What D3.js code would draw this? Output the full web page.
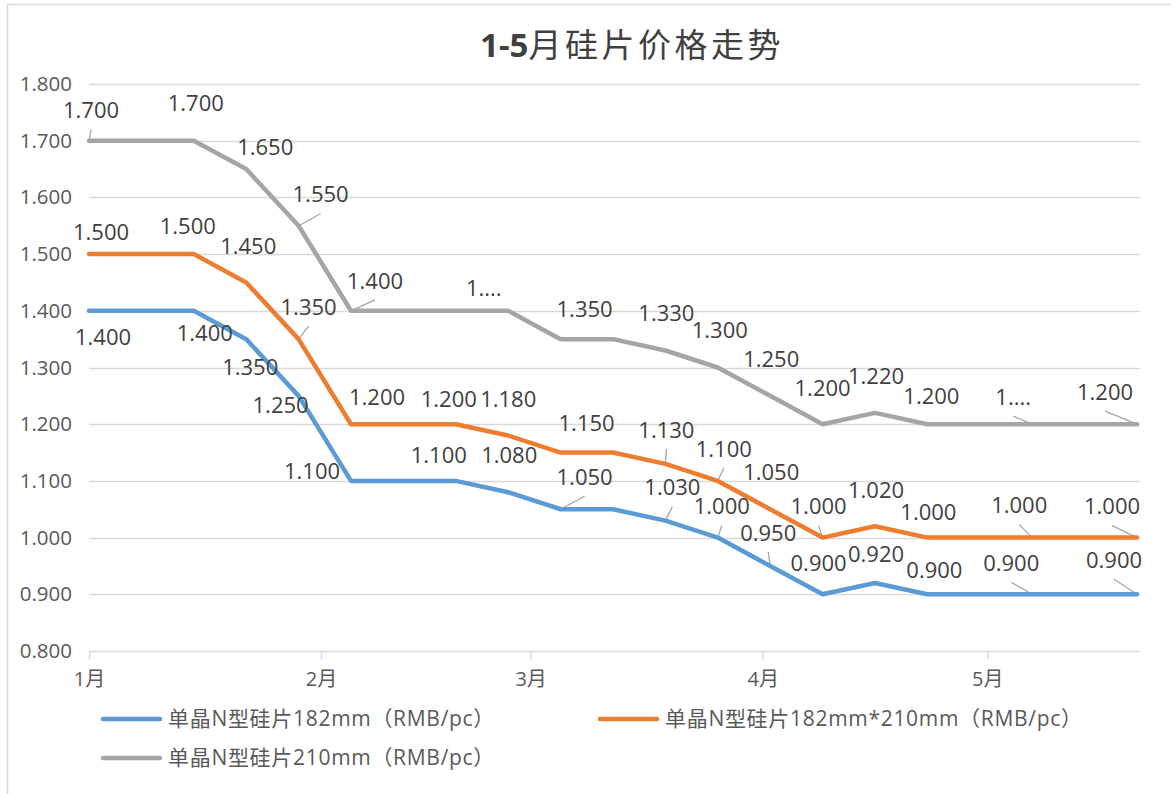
<!DOCTYPE html>
<html>
<head>
<meta charset="utf-8">
<script src="https://cdn.jsdelivr.net/npm/d3@7"></script>
<style>
  html, body { margin: 0; padding: 0; background: #fff; }
  svg { display: block; }
  text { font-family: "Open Sans", "Noto Sans CJK SC", sans-serif; }
</style>
</head>
<body>
<svg id="chart" width="1171" height="794"></svg>
<script>
// Weekly sample dates (2023)
const dates = [
  "2023-01-01", "2023-01-08", "2023-01-15", "2023-01-22", "2023-01-29",
  "2023-02-05", "2023-02-12", "2023-02-19", "2023-02-26", "2023-03-05",
  "2023-03-12", "2023-03-19", "2023-03-26", "2023-04-02", "2023-04-09",
  "2023-04-16", "2023-04-23", "2023-04-30", "2023-05-07", "2023-05-14",
  "2023-05-21"
];

// Prices, RMB per piece
const price182 = [1.400, 1.400, 1.400, 1.350, 1.250, 1.100, 1.100, 1.100, 1.080, 1.050,
                  1.050, 1.030, 1.000, 0.950, 0.900, 0.920, 0.900, 0.900, 0.900, 0.900, 0.900];
const price182x210 = [1.500, 1.500, 1.500, 1.450, 1.350, 1.200, 1.200, 1.200, 1.180, 1.150,
                      1.150, 1.130, 1.100, 1.050, 1.000, 1.020, 1.000, 1.000, 1.000, 1.000, 1.000];
const price210 = [1.700, 1.700, 1.700, 1.650, 1.550, 1.400, 1.400, 1.400, 1.400, 1.350,
                  1.350, 1.330, 1.300, 1.250, 1.200, 1.220, 1.200, 1.200, 1.200, 1.200, 1.200];

const seriesNames = [
  "单晶N型硅片182mm（RMB/pc）",
  "单晶N型硅片182mm*210mm（RMB/pc）",
  "单晶N型硅片210mm（RMB/pc）"
];

const monthTicks = ["2023-01-01", "2023-02-01", "2023-03-01", "2023-04-01", "2023-05-01"];
const monthLabels = ["1月", "2月", "3月", "4月", "5月"];
const yTicks = [0.8, 0.9, 1.0, 1.1, 1.2, 1.3, 1.4, 1.5, 1.6, 1.7, 1.8];

const titleText = "1-5月硅片价格走势";

// Data label placement: [point index, dx, dy, leader line, shortened text]
const labels182 = [
  [0, 14, 26], [2, 11, 22], [3, 4, 28], [4, -18, 9], [5, -39, -10],
  [7, -17, -26], [8, 1, -37], [9, 24, -32, true], [11, 7, -33, true],
  [12, 4, -31, true], [13, -2, -33, true], [14, -4, -31], [15, 1, -29],
  [16, 7, -24], [18, -21, -31, true], [20, -23, -34, true]
];
const labels182x210 = [
  [0, 12, -22], [2, -6, -28], [3, 2, -36], [4, 10, -32, true], [5, 26, -27],
  [7, -7, -25], [8, 0, -36], [9, 26, -29], [11, 1, -34, true],
  [12, 6, -32, true], [13, 1, -37], [14, -4, -31, true], [15, 1, -36],
  [16, 1, -25], [18, -13, -32, true], [20, -25, -31, true]
];
const labels210 = [
  [0, 2, -30, true], [2, 2, -37], [3, 19, -22], [4, 22, -31, true],
  [5, 24, -30, true], [7, 28, -23, false, "1...."], [9, 24, -30], [11, 1, -37],
  [12, 2, -37], [13, 1, -37], [14, 0, -36], [15, 1, -37], [16, 4, -28],
  [18, -19, -27, true, "1...."], [20, -32, -32, true]
];

const colors = ["#5b9bd5", "#ed7d31", "#a5a5a5"];

const parse = d3.timeParse("%Y-%m-%d");
const series = [
  { name: seriesNames[0], values: price182, labels: labels182, color: colors[0] },
  { name: seriesNames[1], values: price182x210, labels: labels182x210, color: colors[1] },
  { name: seriesNames[2], values: price210, labels: labels210, color: colors[2] }
];

const svg = d3.select("#chart");

// chart frame
svg.append("rect")
  .attr("x", 7.5).attr("y", 4.5)
  .attr("width", 1300).attr("height", 1000)
  .attr("fill", "#fff").attr("stroke", "#d9d9d9").attr("stroke-width", 1.5);

const x = d3.scaleTime()
  .domain([parse(dates[0]), parse(dates[dates.length - 1])])
  .range([89, 1137]);
const y = d3.scaleLinear().domain([0.8, 1.8]).range([651, 84]);

// title
svg.append("text")
  .attr("x", 632).attr("y", 57)
  .attr("text-anchor", "middle")
  .attr("fill", "#404040")
  .style("font-size", "33px")
  .call(t => {
    t.append("tspan").attr("font-weight", "bold").text(titleText.slice(0, 3));
    t.append("tspan").attr("font-weight", 400).style("letter-spacing", "3.5px").text(titleText.slice(3));
  });

// horizontal gridlines
svg.append("g")
  .selectAll("line")
  .data(yTicks.slice(1))
  .join("line")
  .attr("x1", 89).attr("x2", 1140)
  .attr("y1", d => Math.round(y(d)) + 0.5).attr("y2", d => Math.round(y(d)) + 0.5)
  .attr("stroke", "#d9d9d9").attr("stroke-width", 1.3);

// y axis labels
const yAxis = d3.axisLeft(y).tickValues(yTicks).tickFormat(d3.format(".3f")).tickSize(0).tickPadding(0);
svg.append("g")
  .attr("transform", "translate(72,0)")
  .call(yAxis)
  .call(g => g.select(".domain").remove())
  .call(g => g.selectAll("text")
    .attr("fill", "#595959")
    .style("font-size", "20.5px")
    .style("font-family", "'Open Sans', 'Noto Sans CJK SC', sans-serif"));

// x axis
const xAxis = d3.axisBottom(x)
  .tickValues(monthTicks.map(parse))
  .tickFormat((d, i) => monthLabels[i])
  .tickSize(8).tickSizeOuter(0).tickPadding(12);
svg.append("g")
  .attr("transform", `translate(0,${Math.round(y(0.8)) + 0.5})`)
  .call(xAxis)
  .call(g => g.select(".domain").attr("d", "M89,0H1140").attr("stroke", "#d9d9d9").attr("stroke-width", 1.3))
  .call(g => g.selectAll(".tick line").attr("stroke", "#d9d9d9").attr("stroke-width", 1.3))
  .call(g => g.selectAll("text")
    .attr("fill", "#595959")
    .style("font-size", "20px")
    .style("font-family", "'Open Sans', 'Noto Sans CJK SC', sans-serif"));

const line = d3.line()
  .x((d, i) => x(parse(dates[i])))
  .y(d => y(d));

// leader lines
series.forEach(s => {
  s.labels.filter(l => l[3]).forEach(([i, dx, dy]) => {
    const px = x(parse(dates[i])), py = y(s.values[i]);
    svg.append("line")
      .attr("x1", px + dx).attr("y1", py + dy + 19)
      .attr("x2", px).attr("y2", py)
      .attr("stroke", "#a6a6a6").attr("stroke-width", 1.3);
  });
});

// series lines
series.forEach(s => {
  svg.append("path")
    .datum(s.values)
    .attr("d", line)
    .attr("fill", "none")
    .attr("stroke", s.color)
    .attr("stroke-width", 4.5)
    .attr("stroke-linejoin", "round")
    .attr("stroke-linecap", "round");
});

// data labels
const fmt = d3.format(".3f");
series.forEach(s => {
  svg.append("g")
    .selectAll("text")
    .data(s.labels)
    .join("text")
    .attr("x", d => x(parse(dates[d[0]])) + d[1])
    .attr("y", d => y(s.values[d[0]]) + d[2])
    .attr("dy", "0.35em")
    .attr("text-anchor", "middle")
    .attr("fill", "#404040")
    .style("font-size", "22px")
    .text(d => d[4] || fmt(s.values[d[0]]));
});

// legend
const legendPos = [[103, 719], [600, 719], [103, 758]];
const legend = svg.append("g")
  .selectAll("g")
  .data(series)
  .join("g")
  .attr("transform", (d, i) => `translate(${legendPos[i][0]},${legendPos[i][1]})`);
legend.append("line")
  .attr("x1", 0).attr("x2", 57).attr("y1", 0).attr("y2", 0)
  .attr("stroke", d => d.color).attr("stroke-width", 4.5).attr("stroke-linecap", "round");
legend.append("text")
  .attr("x", 65).attr("y", 0).attr("dy", "0.35em")
  .attr("fill", "#595959")
  .style("font-size", "21px")
  .style("letter-spacing", "0.7px")
  .text(d => d.name);
</script>
</body>
</html>
